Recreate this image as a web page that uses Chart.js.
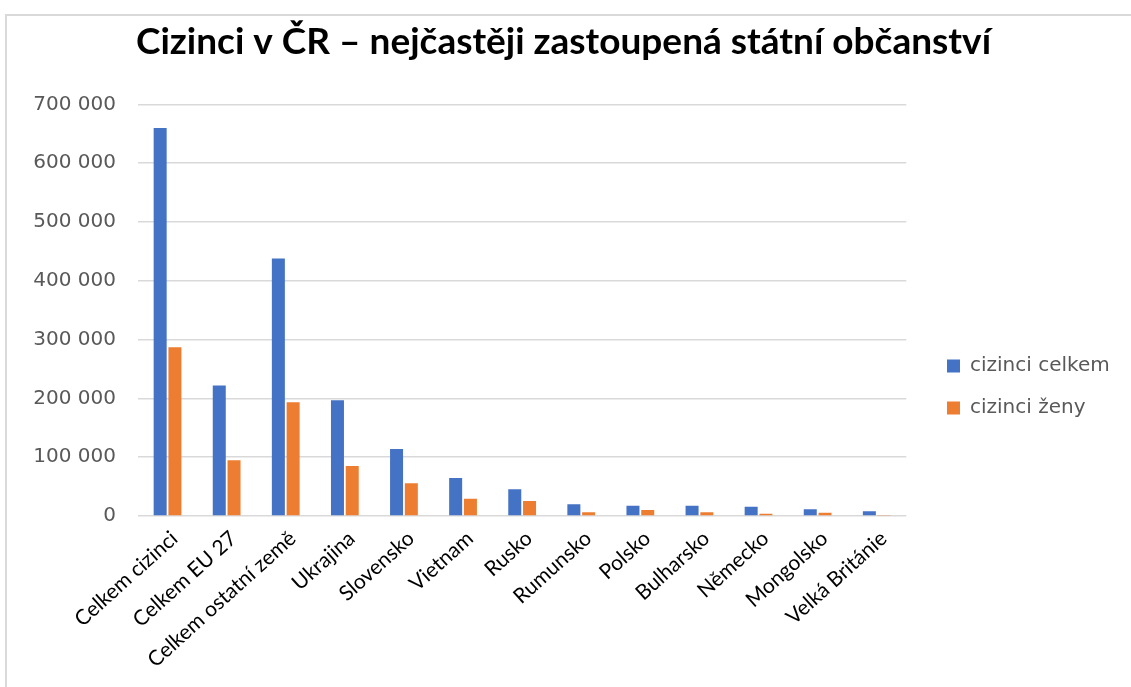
<!DOCTYPE html>
<html>
<head>
<meta charset="utf-8">
<script src="https://cdn.jsdelivr.net/npm/chart.js@4"></script>
<style>
  html, body { margin: 0; padding: 0; background: #fff; }
  #frame { position: absolute; left: 5px; top: 14px; width: 1300px; height: 900px; border: 2px solid #d9d9d9; box-sizing: border-box; }
  #c { position: absolute; left: 0; top: 0; }
</style>
</head>
<body>
<div id="frame"></div>
<canvas id="c" width="1131" height="687"></canvas>
<script>
const categories = ["Celkem cizinci", "Celkem EU 27", "Celkem ostatní země", "Ukrajina", "Slovensko", "Vietnam", "Rusko", "Rumunsko", "Polsko", "Bulharsko", "Německo", "Mongolsko", "Velká Británie"];
const cizinciCelkem = [660000, 222000, 438000, 197000, 114000, 64500, 45300, 19800, 17500, 17500, 15900, 11400, 8000];
const cizinciZeny = [287000, 95000, 193500, 85000, 55500, 29400, 25500, 6200, 10200, 6200, 3900, 5700, 1500];
const seriesNames = ["cizinci celkem", "cizinci ženy"];
const yTicks = [0, 100000, 200000, 300000, 400000, 500000, 600000, 700000];

const fmt = v => String(v).replace(/\B(?=(\d{3})+(?!\d))/g, ' ');

const layoutTweaks = {
  id: 'layoutTweaks',
  afterLayout(chart) {
    const lg = chart.legend;
    if (lg) {
      const dx = 948 - (lg.left + 23);
      const h = lg.bottom - lg.top;
      lg.left += dx; lg.right += dx;
      lg.top = 334; lg.bottom = 334 + h;
    }
    const tb = chart.titleBlock;
    if (tb) { tb.left += 13; tb.right += 13; }
  }
};

new Chart(document.getElementById('c'), {
  type: 'bar',
  data: {
    labels: categories,
    datasets: [
      { label: seriesNames[0], data: cizinciCelkem, backgroundColor: '#4472C4', categoryPercentage: 0.5, barPercentage: 0.88 },
      { label: seriesNames[1], data: cizinciZeny, backgroundColor: '#ED7D31', categoryPercentage: 0.5, barPercentage: 0.88 }
    ]
  },
  options: {
    responsive: false,
    devicePixelRatio: 1,
    animation: false,
    layout: { padding: { left: 0, right: 30, top: 0, bottom: 0 } },
    plugins: {
      title: {
        display: true,
        text: 'Cizinci v ČR – nejčastěji zastoupená státní občanství',
        color: '#000',
        font: { family: 'Lato', size: 37, weight: 'bold' },
        padding: { top: 20, bottom: 40 }
      },
      legend: {
        position: 'right',
        align: 'start',
        labels: {
          boxWidth: 13, boxHeight: 13, padding: 22,
          color: '#595959',
          font: { family: 'DejaVu Sans', size: 20 }
        }
      },
      tooltip: { enabled: false }
    },
    scales: {
      x: {
        grid: { display: false },
        border: { display: false },
        ticks: {
          color: '#000',
          font: { family: 'Lato', size: 21 },
          minRotation: 42, maxRotation: 42,
          autoSkip: false,
          labelOffset: 7,
          padding: 2
        },
        afterFit(scale) { scale.height = 171; }
      },
      y: {
        min: 0, max: 700000,
        afterBuildTicks(scale) { scale.ticks = yTicks.map(v => ({ value: v })); },
        grid: { color: '#d9d9d9', lineWidth: 1.5, drawTicks: false },
        border: { display: false },
        ticks: {
          color: '#595959',
          font: { family: 'DejaVu Sans', size: 20 },
          padding: 22,
          callback: v => fmt(v)
        },
        afterFit(scale) { scale.width = 138; }
      }
    }
  },
  plugins: [layoutTweaks]
});
</script>
</body>
</html>
